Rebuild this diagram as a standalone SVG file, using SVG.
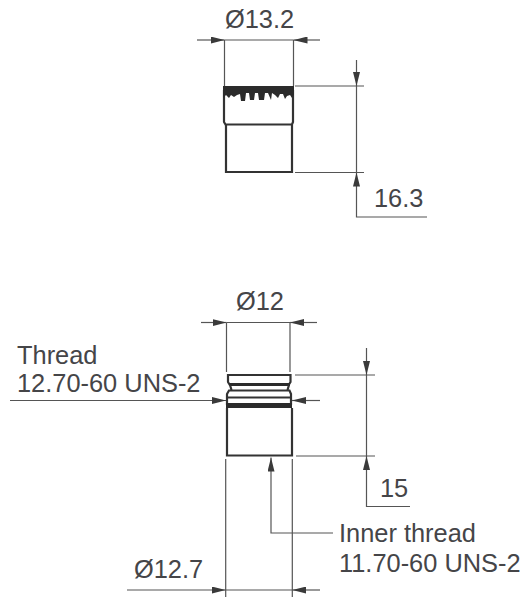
<svg xmlns="http://www.w3.org/2000/svg" width="526" height="597" viewBox="0 0 526 597">
<style>
text{font-family:"Liberation Sans",Arial,sans-serif;font-size:25.4px;fill:#454548}
.d{fill:none;stroke:#555;stroke-width:1.2}
.o{fill:none;stroke:#333;stroke-width:2.2}
.k{fill:#2b2b2b;stroke:none}
</style>
<defs>
<marker id="a" viewBox="0 0 14 7" refX="14" refY="3.500" markerWidth="14" markerHeight="7" markerUnits="userSpaceOnUse" orient="auto"><path d="M0 0L14 3.500L0 7Z" fill="#3a3a3a"/></marker>
</defs>
<rect width="526" height="597" fill="#fff"/>
<g id="connectors">
<path class="d" d="M224.500 40V86M293.500 40V86"/>
<path class="d" d="M197 40H224.500" marker-end="url(#a)"/>
<path class="d" d="M320 40H293.500" marker-end="url(#a)"/>
<path class="d" d="M224.500 40H293.500"/>
<path class="d" d="M295 86H364M295 172.500H364"/>
<path class="d" d="M356.500 60V86" marker-end="url(#a)"/>
<path class="d" d="M356.500 86V172"/>
<path class="d" d="M427 217H356.500V172.500" marker-end="url(#a)"/>
<path class="d" d="M226.500 322.500V372M290 322.500V372"/>
<path class="d" d="M201 322.500H226.500" marker-end="url(#a)"/>
<path class="d" d="M317 322.500H290" marker-end="url(#a)"/>
<path class="d" d="M226.500 322.500H290"/>
<path class="d" d="M10 400.500H226" marker-end="url(#a)"/>
<path class="d" d="M320 400.500H292" marker-end="url(#a)"/>
<path class="d" d="M295 375H375M296 456H375"/>
<path class="d" d="M366.500 348V375" marker-end="url(#a)"/>
<path class="d" d="M366.500 375V456"/>
<path class="d" d="M410 506.500H366.500V456" marker-end="url(#a)"/>
<path class="d" d="M333 533H271V457.500" marker-end="url(#a)"/>
<path class="d" d="M225.700 459V597M292.300 459V597"/>
<path class="d" d="M127 590H225.700" marker-end="url(#a)"/>
<path class="d" d="M320 590H292.300" marker-end="url(#a)"/>
<path class="d" d="M225.700 590H292.300"/>
</g>
<g id="knob-top">
<path class="o" d="M224 90V122L225.500 124.500H292L293 122V90"/>
<path class="o" d="M226 125V172H292V125"/>
<path class="k" d="M223 86H294V94L292 98L290 95L287 96L285 99L283 94L280 94L278 98L275 95L272 93L271 100L268 93L265 93L264 100L259 100L258 93L255 93L254 100L250 100L249 93L246 93L245 101L241 101L240 94L237 95L234 97L231 95L229 98L226 95L223 98Z"/>
</g>
<g id="knob-bottom">
<path class="o" d="M228 375H290.500V382L289 384.500H229.500L228 382Z"/>
<path class="k" d="M229 383H290V386H229Z"/>
<path class="o" d="M230 385L231.500 390M289 385L287.500 390"/>
<path class="o" d="M229 390.500H289.500L291 394V404H227V394Z"/>
<path class="o" d="M227 397.500H291"/>
<rect class="k" x="226" y="403" width="66" height="5"/>
<path class="o" d="M227 408V455.500H292V408"/>
</g>
<g id="labels">
<text x="225" y="28">Ø13.2</text>
<text x="374" y="207">16.3</text>
<text x="236" y="310">Ø12</text>
<text x="17" y="364">Thread</text>
<text x="17" y="392">12.70-60 UNS-2</text>
<text x="380" y="497">15</text>
<text x="339" y="542">Inner thread</text>
<text x="339" y="572">11.70-60 UNS-2</text>
<text x="134" y="578">Ø12.7</text>
</g>
</svg>
